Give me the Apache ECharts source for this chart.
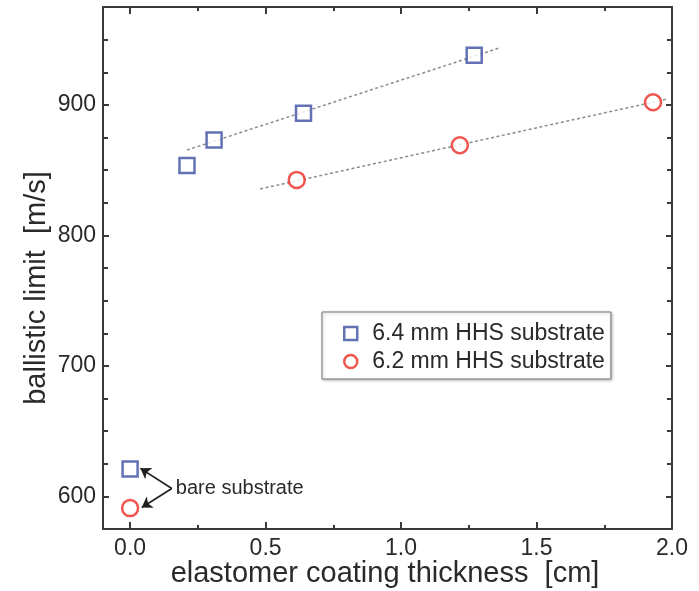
<!DOCTYPE html>
<html>
<head>
<meta charset="utf-8">
<script src="https://cdn.jsdelivr.net/npm/echarts@6/dist/echarts.min.js"></script>
<style>
html,body{margin:0;padding:0;background:#fff;}
#c{width:699px;height:591px;}
</style>
</head>
<body>
<div id="c"></div>
<script>
// ---- data ----
const seriesNames = ['6.4 mm HHS substrate', '6.2 mm HHS substrate'];
const blueX = [0, 0.21, 0.31, 0.64, 1.27];
const blueY = [621, 853.5, 873, 893.5, 938];
const redX = [0, 0.615, 1.217, 1.93];
const redY = [591, 842.5, 869, 902];
const blueFitX = [0.21, 1.36];
const blueFitY = [865.4, 943.4];
const redFitX = [0.48, 1.98];
const redFitY = [835.6, 904.4];
const xMajorTicks = [0, 0.5, 1.0, 1.5, 2.0];
const xMinorTicks = [0.25, 0.75, 1.25, 1.75];
const yMajorTicks = [600, 700, 800, 900];
const yMinorTicks = [625, 650, 675, 725, 750, 775, 825, 850, 875, 925, 950];
const annoText = 'bare substrate';
const annoVertex = [0.154, 606];
const annoTargets = [[0.038, 621.5], [0.043, 591.5]];
const xTitle = 'elastomer coating thickness  [cm]';
const yTitle = 'ballistic limit  [m/s]';

const FONT = '"Liberation Sans", Arial, Helvetica, sans-serif';
const BLUE = '#3b4fa3';
const RED = '#ec2a22';
const FRAME = '#3a3a3a';
const TXT = '#2a2a2a';

const zip = (a, b) => a.map((v, i) => [v, b[i]]);

function xAx(pos, ticks, len, showLine, showLabel) {
  return {
    type: 'value', position: pos, min: -0.1, max: 2.0, gridIndex: 0,
    axisLine: {show: showLine, onZero: false, lineStyle: {color: FRAME, width: 2}},
    axisTick: {show: true, inside: true, length: len, customValues: ticks, lineStyle: {color: FRAME, width: 2}},
    axisLabel: showLabel ? {show: true, customValues: ticks, formatter: v => v.toFixed(1),
      fontSize: 23, fontFamily: FONT, color: TXT, margin: 8} : {show: false},
    splitLine: {show: false}
  };
}
function yAx(pos, ticks, len, showLine, showLabel) {
  return {
    type: 'value', position: pos, min: 575, max: 975, gridIndex: 0,
    axisLine: {show: showLine, onZero: false, lineStyle: {color: FRAME, width: 2}},
    axisTick: {show: true, inside: true, length: len, customValues: ticks, lineStyle: {color: FRAME, width: 2}},
    axisLabel: showLabel ? {show: true, customValues: ticks, formatter: v => String(v),
      fontSize: 23, fontFamily: FONT, color: TXT, margin: 7} : {show: false},
    splitLine: {show: false}
  };
}

const chart = echarts.init(document.getElementById('c'), null, {renderer: 'canvas'});
chart.setOption({
  animation: false,
  backgroundColor: '#fff',
  grid: {left: 103, right: 27, top: 7, bottom: 62, containLabel: false},
  xAxis: [
    xAx('bottom', xMajorTicks, 7, true, true),
    xAx('bottom', xMinorTicks, 4, false, false),
    xAx('top', xMajorTicks, 7, true, false),
    xAx('top', xMinorTicks, 4, false, false)
  ],
  yAxis: [
    yAx('left', yMajorTicks, 6, true, true),
    yAx('left', yMinorTicks, 5, false, false),
    yAx('right', yMajorTicks, 6, true, false),
    yAx('right', yMinorTicks, 5, false, false)
  ],
  legend: {
    orient: 'vertical', left: 322, top: 312,
    padding: [10, 6, 6, 21], itemGap: 5, itemWidth: 13, itemHeight: 13,
    borderColor: '#777', borderWidth: 1,
    shadowColor: 'rgba(0,0,0,0.25)', shadowBlur: 3, shadowOffsetX: 1, shadowOffsetY: 1,
    backgroundColor: '#fff',
    textStyle: {fontSize: 23, fontFamily: FONT, color: TXT, padding: [0, 0, 0, 10]},
    data: [
      {name: seriesNames[0], icon: 'rect', itemStyle: {color: '#fff', borderColor: BLUE, borderWidth: 2.5}},
      {name: seriesNames[1], icon: 'circle', itemStyle: {color: '#fff', borderColor: RED, borderWidth: 2.5}}
    ]
  },
  graphic: [
    {type: 'text', x: 385, y: 559, z: 10,
      style: {text: xTitle, fontSize: 29, fontFamily: FONT, fill: TXT, align: 'center', verticalAlign: 'top'}},
    {type: 'text', x: 22, y: 288, rotation: Math.PI / 2, z: 10,
      style: {text: yTitle, fontSize: 29, fontFamily: FONT, fill: TXT, align: 'center', verticalAlign: 'top'}}
  ],
  series: [
    {
      name: 'blueFit', type: 'line', xAxisIndex: 0, yAxisIndex: 0, data: zip(blueFitX, blueFitY),
      symbol: 'none', silent: true, z: 2,
      lineStyle: {color: '#8c8c8c', width: 1.5, type: [3, 2.5]}
    },
    {
      name: 'redFit', type: 'line', xAxisIndex: 0, yAxisIndex: 0, data: zip(redFitX, redFitY),
      symbol: 'none', silent: true, z: 2,
      lineStyle: {color: '#8c8c8c', width: 1.5, type: [3, 2.5]},
      markLine: {
        silent: true, symbol: ['none', 'arrow'], symbolSize: 10,
        lineStyle: {color: '#1e1e1e', width: 1.6, type: 'solid'},
        itemStyle: {color: '#1e1e1e'},
        label: {show: false},
        data: annoTargets.map(t => [{coord: annoVertex}, {coord: t}])
      },
      markPoint: {
        silent: true, symbol: 'circle', symbolSize: 0,
        label: {show: true, position: 'right', distance: 4, formatter: annoText,
          fontSize: 20, fontFamily: FONT, color: TXT},
        data: [{coord: annoVertex}]
      }
    },
    {
      name: seriesNames[0], type: 'scatter', xAxisIndex: 0, yAxisIndex: 0, data: zip(blueX, blueY),
      symbol: 'rect', symbolSize: 15, z: 5,
      itemStyle: {color: '#fff', borderColor: BLUE, borderWidth: 2.5}
    },
    {
      name: seriesNames[1], type: 'scatter', xAxisIndex: 0, yAxisIndex: 0, data: zip(redX, redY),
      symbol: 'circle', symbolSize: 16, z: 5,
      itemStyle: {color: '#fff', borderColor: RED, borderWidth: 2.5}
    }
  ]
});
</script>
</body>
</html>
